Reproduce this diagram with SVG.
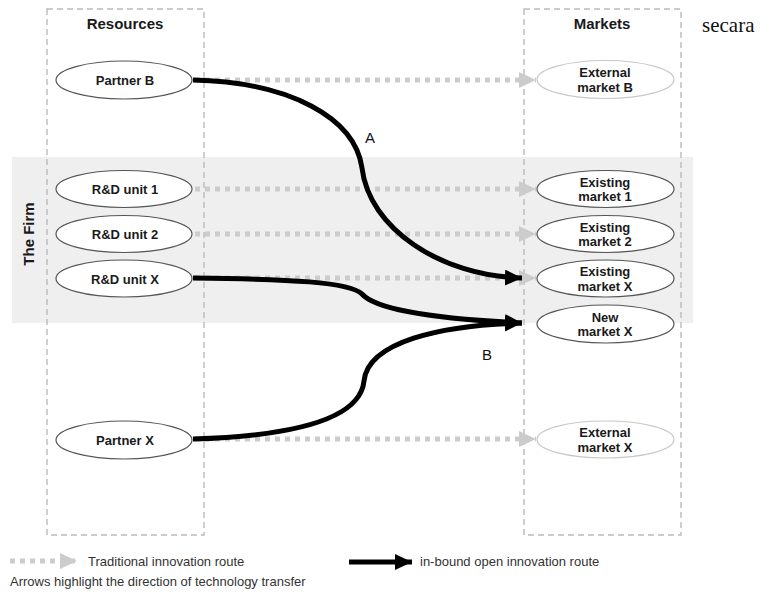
<svg xmlns="http://www.w3.org/2000/svg" width="773" height="594" viewBox="0 0 773 594">
<style>
.box{fill:none;stroke:#bbb;stroke-width:1.4;stroke-dasharray:6 4}
.nd{fill:#fff;stroke:#555;stroke-width:1.2}
.ext{fill:#fff;stroke:#c8c8c8;stroke-width:1.2}
.lbl{font-family:"Liberation Sans",Arial,sans-serif;font-weight:bold;font-size:13px;fill:#1a1a1a;text-anchor:middle}
.hdr{font-family:"Liberation Sans",Arial,sans-serif;font-weight:bold;font-size:15px;fill:#1a1a1a;text-anchor:middle}
.trad{fill:none;stroke:#ccc;stroke-width:5;stroke-dasharray:5 5}
.open{fill:none;stroke:#000;stroke-width:5}
.leg{font-family:"Liberation Sans",Arial,sans-serif;font-size:13px;fill:#333}
</style>
<defs>
<marker id="ga" markerUnits="userSpaceOnUse" markerWidth="18" markerHeight="18" refX="17" refY="8" orient="auto"><path d="M0,0 L17,8 L0,16 Z" fill="#ccc"/></marker>
<marker id="ba" markerUnits="userSpaceOnUse" markerWidth="18" markerHeight="18" refX="17" refY="8" orient="auto"><path d="M0,0 L17,8 L0,16 Z" fill="#000"/></marker>
</defs>
<rect x="0" y="0" width="773" height="594" fill="#fff"/>
<rect x="12" y="157" width="681" height="166" fill="#efefef"/>
<rect class="box" x="47" y="9" width="157" height="526"/>
<rect class="box" x="524" y="9" width="157" height="526"/>
<text class="hdr" x="125" y="29">Resources</text>
<text class="hdr" x="602" y="29">Markets</text>
<text x="702" y="32" font-family="Liberation Serif,Times New Roman,serif" font-size="21" fill="#111">secara</text>
<text class="hdr" transform="translate(34,234) rotate(-90)">The Firm</text>

<g id="connectors">
<line class="trad" x1="195" y1="80" x2="536" y2="80" marker-end="url(#ga)"/>
<line class="trad" x1="195" y1="189" x2="536" y2="189" marker-end="url(#ga)"/>
<line class="trad" x1="195" y1="234" x2="536" y2="234" marker-end="url(#ga)"/>
<line class="trad" x1="195" y1="278" x2="536" y2="278" marker-end="url(#ga)"/>
<line class="trad" x1="195" y1="439" x2="536" y2="439" marker-end="url(#ga)"/>
<path class="open" d="M193,80 C290,82 355,118 362,168 C369,228 440,276 522,278" marker-end="url(#ba)"/>
<path class="open" d="M193,278 C290,279 350,282 362,294 C376,310 440,319 522,323" marker-end="url(#ba)"/>
<path class="open" d="M193,439 C290,436 360,420 364,381 C368,342 440,325 522,323" marker-end="url(#ba)"/>
<text x="370" y="143" font-family="Liberation Sans,Arial,sans-serif" font-size="15" text-anchor="middle" fill="#111">A</text>
<text x="487" y="360" font-family="Liberation Sans,Arial,sans-serif" font-size="15" text-anchor="middle" fill="#111">B</text>
</g>

<g id="partnerB"><ellipse class="nd" cx="124" cy="80" rx="68" ry="19"/><text class="lbl" x="125" y="85">Partner B</text></g>
<g id="rd1"><ellipse class="nd" cx="124" cy="189" rx="68" ry="18.5"/><text class="lbl" x="125" y="194">R&amp;D unit 1</text></g>
<g id="rd2"><ellipse class="nd" cx="124" cy="234" rx="68" ry="18.5"/><text class="lbl" x="125" y="239">R&amp;D unit 2</text></g>
<g id="rdX"><ellipse class="nd" cx="124" cy="278.5" rx="68" ry="18.5"/><text class="lbl" x="125" y="283.5">R&amp;D unit X</text></g>
<g id="partnerX"><ellipse class="nd" cx="124" cy="440" rx="68" ry="19"/><text class="lbl" x="125" y="445">Partner X</text></g>

<g id="extB"><ellipse class="ext" cx="605.5" cy="79.5" rx="68.5" ry="19"/><text class="lbl" x="605" y="77">External</text><text class="lbl" x="605" y="91.5">market B</text></g>
<g id="ex1"><ellipse class="nd" cx="605.5" cy="189" rx="68.5" ry="18.5"/><text class="lbl" x="605" y="186.5">Existing</text><text class="lbl" x="605" y="201">market 1</text></g>
<g id="ex2"><ellipse class="nd" cx="605.5" cy="234" rx="68.5" ry="18.5"/><text class="lbl" x="605" y="231.5">Existing</text><text class="lbl" x="605" y="246">market 2</text></g>
<g id="exX"><ellipse class="nd" cx="605.5" cy="278.5" rx="68.5" ry="18.5"/><text class="lbl" x="605" y="276">Existing</text><text class="lbl" x="605" y="290.5">market X</text></g>
<g id="newX"><ellipse class="nd" cx="605.5" cy="324" rx="68.5" ry="19"/><text class="lbl" x="605" y="321.5">New</text><text class="lbl" x="605" y="336">market X</text></g>
<g id="extX"><ellipse class="ext" cx="605.5" cy="439.5" rx="68.5" ry="18.5"/><text class="lbl" x="605" y="437">External</text><text class="lbl" x="605" y="451.5">market X</text></g>

<g id="legend">
<line class="trad" x1="10" y1="561" x2="77" y2="561" marker-end="url(#ga)"/>
<text class="leg" x="88" y="566">Traditional innovation route</text>
<line class="open" x1="349" y1="562" x2="412" y2="562" marker-end="url(#ba)"/>
<text class="leg" x="420" y="566">in-bound open innovation route</text>
<text class="leg" x="10" y="586">Arrows highlight the direction of technology transfer</text>
</g>
</svg>
